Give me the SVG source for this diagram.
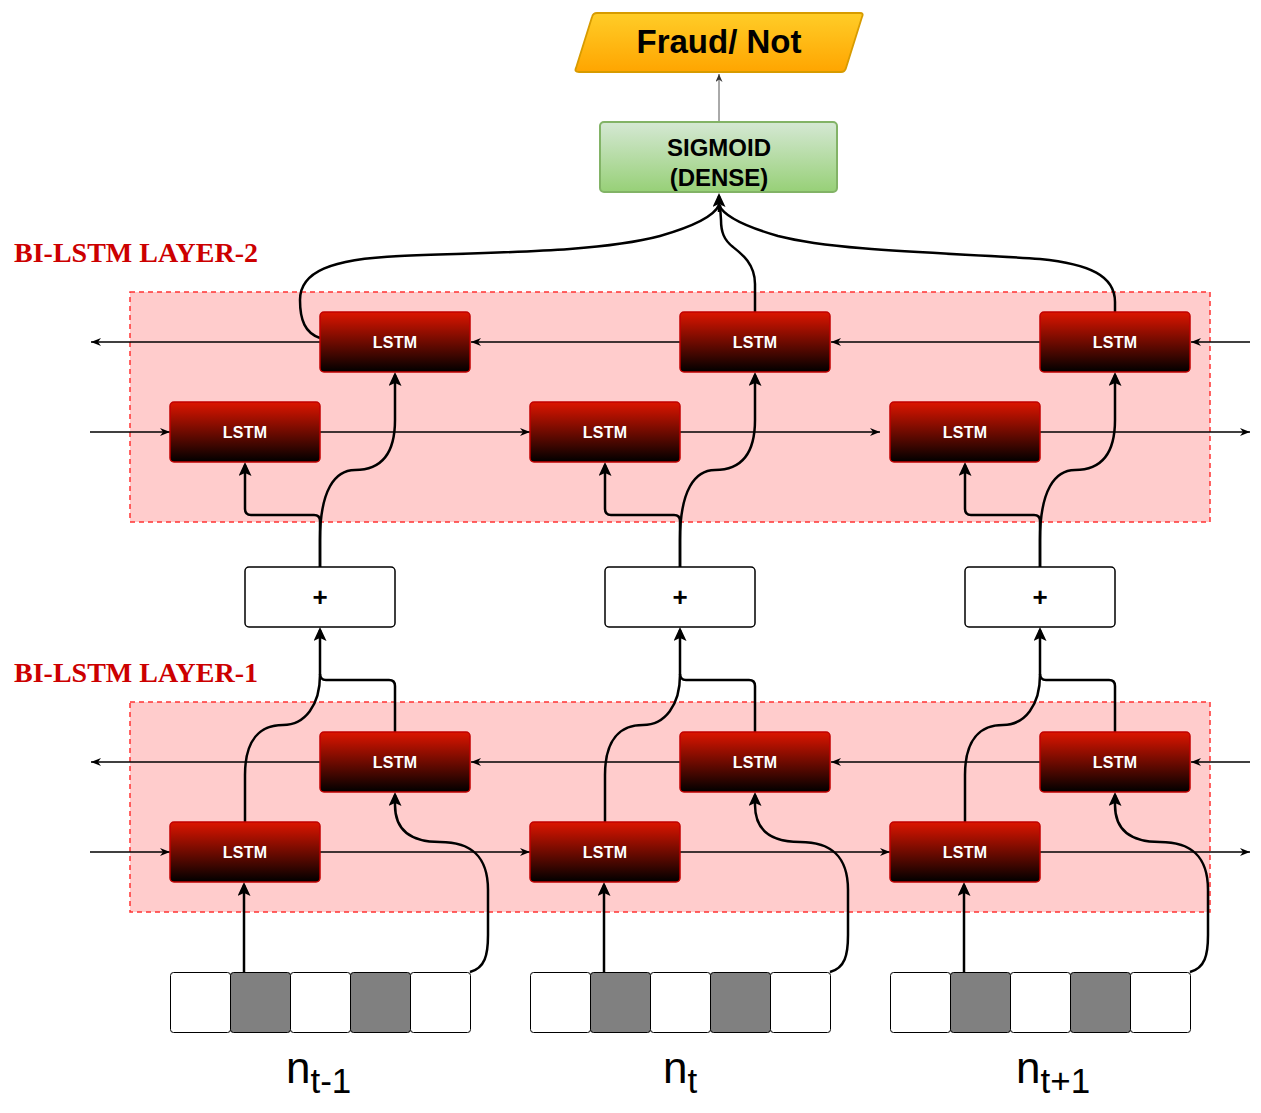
<svg xmlns="http://www.w3.org/2000/svg" width="1261" height="1113" viewBox="0 0 1261 1113">
<defs>
<linearGradient id="gLstm" x1="0" y1="0" x2="0" y2="1">
<stop offset="0" stop-color="#dd1500"/>
<stop offset="1" stop-color="#000000"/>
</linearGradient>
<linearGradient id="gSig" x1="0" y1="0" x2="0" y2="1">
<stop offset="0" stop-color="#d5e8d4"/>
<stop offset="1" stop-color="#97d077"/>
</linearGradient>
<linearGradient id="gOut" x1="0" y1="0" x2="0" y2="1">
<stop offset="0" stop-color="#ffcd28"/>
<stop offset="1" stop-color="#ffa500"/>
</linearGradient>
<marker id="aThin" markerUnits="userSpaceOnUse" viewBox="0 0 10 8" markerWidth="10" markerHeight="8" refX="10" refY="4" orient="auto">
<path d="M0,0 L10,4 L0,8 L3,4 Z" fill="#000"/>
</marker>
<marker id="aGrey" markerUnits="userSpaceOnUse" viewBox="0 0 8 7" markerWidth="8" markerHeight="7" refX="8" refY="3.5" orient="auto">
<path d="M0,0 L8,3.5 L0,7 L2.5,3.5 Z" fill="#333"/>
</marker>
<marker id="aThick" markerUnits="userSpaceOnUse" viewBox="0 0 14 13" markerWidth="14" markerHeight="13" refX="11" refY="6.5" orient="auto">
<path d="M0,0 L14,6.5 L0,13 L3,6.5 Z" fill="#000"/>
</marker>
</defs>
<style>
.region{fill:#ffcccc;stroke:#ff3333;stroke-width:1.5;stroke-dasharray:5 4}
.lstm{fill:url(#gLstm);stroke:#c00000;stroke-width:1.5}
.lt{font-family:"Liberation Sans",Arial,sans-serif;font-weight:bold;font-size:16px;fill:#fff;text-anchor:middle;letter-spacing:0.3px}
.plus{fill:#fff;stroke:#000;stroke-width:1.5}
.pt{font-family:"Liberation Sans",Arial,sans-serif;font-weight:bold;font-size:26px;fill:#000;text-anchor:middle}
.cw{fill:#fff;stroke:#000;stroke-width:1}
.cg{fill:#808080;stroke:#000;stroke-width:1}
.thin{fill:none;stroke:#000;stroke-width:1.3;marker-end:url(#aThin)}
.thick{fill:none;stroke:#000;stroke-width:2.5}
.ta{marker-end:url(#aThick)}
.layer{font-family:"Liberation Serif","Times New Roman",serif;font-weight:bold;font-size:28px;fill:#cc0000}
.nl{font-family:"Liberation Sans",Arial,sans-serif;font-size:44px;fill:#000}
</style>
<rect width="1261" height="1113" fill="#fff"/>

<g id="layer2-region"><rect class="region" x="130" y="292" width="1080" height="230"/></g>
<g id="layer1-region"><rect class="region" x="130" y="702" width="1080" height="210"/></g>
<g id="layer2-label"><text class="layer" x="14" y="262">BI-LSTM LAYER-2</text></g>
<g id="layer1-label"><text class="layer" x="14" y="682">BI-LSTM LAYER-1</text></g>

<g id="connectors">
<path d="M719,122 L719,74" fill="none" stroke="#555" stroke-width="1" marker-end="url(#aGrey)"/>
<path class="thin" d="M1250,342 L1191,342"/>
<path class="thin" d="M1040,342 L831,342"/>
<path class="thin" d="M680,342 L471,342"/>
<path class="thin" d="M320,342 L91,342"/>
<path class="thin" d="M90,432 L170,432"/>
<path class="thin" d="M320,432 L530,432"/>
<path class="thin" d="M680,432 L880,432"/>
<path class="thin" d="M1040,432 L1250,432"/>
<path class="thin" d="M1250,762 L1191,762"/>
<path class="thin" d="M1040,762 L831,762"/>
<path class="thin" d="M680,762 L471,762"/>
<path class="thin" d="M320,762 L91,762"/>
<path class="thin" d="M90,852 L170,852"/>
<path class="thin" d="M320,852 L530,852"/>
<path class="thin" d="M680,852 L890,852"/>
<path class="thin" d="M1040,852 L1250,852"/>
<path class="thick" d="M320,338 C305,333 300,320 300,300 C300,272 330,259 400,256 C500,252 600,252 660,236 C705,223 716,212 719,205"/>
<path class="thick" d="M755,312 L755,284 C755,264 742,254 733,247 C724,240 721,232 721,220 L720,205"/>
<path class="thick" d="M1115,312 L1115,302 C1115,276 1090,264 1040,259 C960,253 840,252 778,236 C733,223 722,212 719,205"/>
<path class="thick ta" d="M719,212 L719,196"/>

<g id="col-1">
<path class="thick ta" d="M244,972 L244,885"/>
<path class="thick ta" d="M470,972 C485,968 488,955 488,935 L488,890 C488,855 470,842 440,842 C410,842 395,830 395,805 L395,795"/>
<path class="thick ta" d="M245,822 L245,775 C245,740 260,725 283,725 C305,725 320,705 320,675 L320,630"/>
<path class="thick" d="M395,732 L395,686 Q395,680 389,680 L326,680 Q320,680 320,674"/>
<path class="thick ta" d="M320,567 L320,521 Q320,515 314,515 L251,515 Q245,515 245,509 L245,465"/>
<path class="thick ta" d="M320,567 L320,540 C320,490 335,470 355,470 C378,470 395,458 395,420 L395,375"/>
</g>
<g id="col-2" transform="translate(360,0)">
<path class="thick ta" d="M244,972 L244,885"/>
<path class="thick ta" d="M470,972 C485,968 488,955 488,935 L488,890 C488,855 470,842 440,842 C410,842 395,830 395,805 L395,795"/>
<path class="thick ta" d="M245,822 L245,775 C245,740 260,725 283,725 C305,725 320,705 320,675 L320,630"/>
<path class="thick" d="M395,732 L395,686 Q395,680 389,680 L326,680 Q320,680 320,674"/>
<path class="thick ta" d="M320,567 L320,521 Q320,515 314,515 L251,515 Q245,515 245,509 L245,465"/>
<path class="thick ta" d="M320,567 L320,540 C320,490 335,470 355,470 C378,470 395,458 395,420 L395,375"/>
</g>
<g id="col-3" transform="translate(720,0)">
<path class="thick ta" d="M244,972 L244,885"/>
<path class="thick ta" d="M470,972 C485,968 488,955 488,935 L488,890 C488,855 470,842 440,842 C410,842 395,830 395,805 L395,795"/>
<path class="thick ta" d="M245,822 L245,775 C245,740 260,725 283,725 C305,725 320,705 320,675 L320,630"/>
<path class="thick" d="M395,732 L395,686 Q395,680 389,680 L326,680 Q320,680 320,674"/>
<path class="thick ta" d="M320,567 L320,521 Q320,515 314,515 L251,515 Q245,515 245,509 L245,465"/>
<path class="thick ta" d="M320,567 L320,540 C320,490 335,470 355,470 C378,470 395,458 395,420 L395,375"/>
</g>
</g>

<g id="output">
<path d="M597,13 L860,13 Q864,13 862,17 L846,68 Q845,72 841,72 L579,72 Q574,72 576,68 L592,17 Q593,13 597,13 Z" fill="url(#gOut)" stroke="#d79b00" stroke-width="1.8"/>
<text x="719" y="53" font-family="Liberation Sans,Arial,sans-serif" font-weight="bold" font-size="33" text-anchor="middle" fill="#000">Fraud/ Not</text>
</g>
<g id="sigmoid">
<rect x="600" y="122" width="237" height="70" rx="4" fill="url(#gSig)" stroke="#82b366" stroke-width="2"/>
<text x="719" y="156" font-family="Liberation Sans,Arial,sans-serif" font-weight="bold" font-size="24" text-anchor="middle" fill="#000">SIGMOID</text>
<text x="719" y="186" font-family="Liberation Sans,Arial,sans-serif" font-weight="bold" font-size="24" text-anchor="middle" fill="#000">(DENSE)</text>
</g>

<g id="l2-bwd-1"><rect class="lstm" x="320" y="312" width="150" height="60" rx="4"/><text class="lt" x="395" y="348">LSTM</text></g>
<g id="l2-bwd-2"><rect class="lstm" x="680" y="312" width="150" height="60" rx="4"/><text class="lt" x="755" y="348">LSTM</text></g>
<g id="l2-bwd-3"><rect class="lstm" x="1040" y="312" width="150" height="60" rx="4"/><text class="lt" x="1115" y="348">LSTM</text></g>
<g id="l2-fwd-1"><rect class="lstm" x="170" y="402" width="150" height="60" rx="4"/><text class="lt" x="245" y="438">LSTM</text></g>
<g id="l2-fwd-2"><rect class="lstm" x="530" y="402" width="150" height="60" rx="4"/><text class="lt" x="605" y="438">LSTM</text></g>
<g id="l2-fwd-3"><rect class="lstm" x="890" y="402" width="150" height="60" rx="4"/><text class="lt" x="965" y="438">LSTM</text></g>

<g id="plus-1"><rect class="plus" x="245" y="567" width="150" height="60" rx="4"/><text class="pt" x="320" y="606">+</text></g>
<g id="plus-2"><rect class="plus" x="605" y="567" width="150" height="60" rx="4"/><text class="pt" x="680" y="606">+</text></g>
<g id="plus-3"><rect class="plus" x="965" y="567" width="150" height="60" rx="4"/><text class="pt" x="1040" y="606">+</text></g>

<g id="l1-bwd-1"><rect class="lstm" x="320" y="732" width="150" height="60" rx="4"/><text class="lt" x="395" y="768">LSTM</text></g>
<g id="l1-bwd-2"><rect class="lstm" x="680" y="732" width="150" height="60" rx="4"/><text class="lt" x="755" y="768">LSTM</text></g>
<g id="l1-bwd-3"><rect class="lstm" x="1040" y="732" width="150" height="60" rx="4"/><text class="lt" x="1115" y="768">LSTM</text></g>
<g id="l1-fwd-1"><rect class="lstm" x="170" y="822" width="150" height="60" rx="4"/><text class="lt" x="245" y="858">LSTM</text></g>
<g id="l1-fwd-2"><rect class="lstm" x="530" y="822" width="150" height="60" rx="4"/><text class="lt" x="605" y="858">LSTM</text></g>
<g id="l1-fwd-3"><rect class="lstm" x="890" y="822" width="150" height="60" rx="4"/><text class="lt" x="965" y="858">LSTM</text></g>

<g id="input-1">
<rect class="cw" x="170.5" y="972.5" width="60" height="60" rx="3"/>
<rect class="cg" x="230.5" y="972.5" width="60" height="60" rx="3"/>
<rect class="cw" x="290.5" y="972.5" width="60" height="60" rx="3"/>
<rect class="cg" x="350.5" y="972.5" width="60" height="60" rx="3"/>
<rect class="cw" x="410.5" y="972.5" width="60" height="60" rx="3"/>
</g>
<g id="input-2">
<rect class="cw" x="530.5" y="972.5" width="60" height="60" rx="3"/>
<rect class="cg" x="590.5" y="972.5" width="60" height="60" rx="3"/>
<rect class="cw" x="650.5" y="972.5" width="60" height="60" rx="3"/>
<rect class="cg" x="710.5" y="972.5" width="60" height="60" rx="3"/>
<rect class="cw" x="770.5" y="972.5" width="60" height="60" rx="3"/>
</g>
<g id="input-3">
<rect class="cw" x="890.5" y="972.5" width="60" height="60" rx="3"/>
<rect class="cg" x="950.5" y="972.5" width="60" height="60" rx="3"/>
<rect class="cw" x="1010.5" y="972.5" width="60" height="60" rx="3"/>
<rect class="cg" x="1070.5" y="972.5" width="60" height="60" rx="3"/>
<rect class="cw" x="1130.5" y="972.5" width="60" height="60" rx="3"/>
</g>

<g id="label-1"><text class="nl" x="286" y="1083">n<tspan font-size="35" dy="10">t-1</tspan></text></g>
<g id="label-2"><text class="nl" x="663" y="1083">n<tspan font-size="35" dy="10">t</tspan></text></g>
<g id="label-3"><text class="nl" x="1016" y="1083">n<tspan font-size="35" dy="10">t+1</tspan></text></g>
</svg>
